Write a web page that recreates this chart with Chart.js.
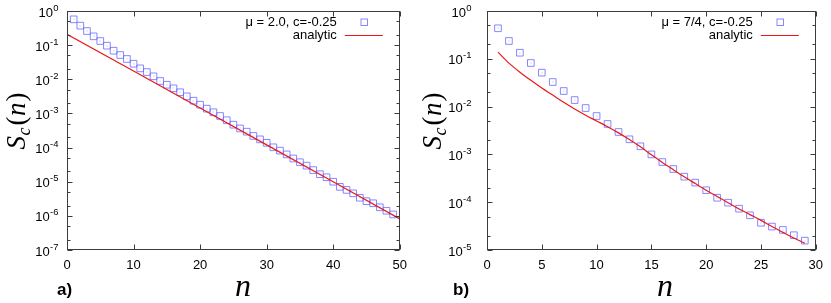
<!DOCTYPE html>
<html><head><meta charset="utf-8">
<script src="https://cdn.jsdelivr.net/npm/chart.js@4/dist/chart.umd.min.js"></script>
<style>
html,body{margin:0;padding:0;background:#fff;width:831px;height:303px;overflow:hidden}
.p{position:absolute;top:0}
</style></head><body>
<div class="p" style="left:0;width:415px;height:303px"><canvas id="ca" width="415" height="303"></canvas></div>
<div class="p" style="left:415px;width:416px;height:303px"><canvas id="cb" width="416" height="303"></canvas></div>
<script>
// ---------- data ----------
// panel a)
const nA = [1,2,3,4,5,6,7,8,9,10,11,12,13,14,15,16,17,18,19,20,21,22,23,24,25,26,27,28,29,30,31,32,33,34,35,36,37,38,39,40,41,42,43,44,45,46,47,48,49];
const simA = [0.570,0.372,0.259,0.181,0.132,0.0964,0.0687,0.0514,0.0393,0.0286,0.0209,0.0163,0.0122,0.00891,0.00692,0.00543,0.00417,0.00316,0.00236,0.00180,0.00138,0.00108,8.41e-4,6.31e-4,4.68e-4,3.63e-4,2.92e-4,2.19e-4,1.74e-4,1.38e-4,1.02e-4,8.13e-5,6.31e-5,4.79e-5,3.72e-5,2.95e-5,2.19e-5,1.66e-5,1.35e-5,1.0e-5,7.08e-6,5.75e-6,4.57e-6,3.39e-6,2.69e-6,2.34e-6,1.78e-6,1.41e-6,1.10e-6];
const lineNA = [0,10,20,30,40,50];
const analyticA = [0.2075,0.0174,0.00145,1.20e-4,1.0e-5,8.13e-7];
// panel b)
const nB = [1,2,3,4,5,6,7,8,9,10,11,12,13,14,15,16,17,18,19,20,21,22,23,24,25,26,27,28,29];
const simB = [0.435,0.236,0.134,0.0817,0.0513,0.0327,0.0212,0.0137,0.00933,0.00635,0.00433,0.00294,0.00207,0.00148,0.00100,6.92e-4,4.95e-4,3.42e-4,2.57e-4,1.78e-4,1.24e-4,9.77e-5,7.31e-5,5.32e-5,3.72e-5,3.09e-5,2.63e-5,2.04e-5,1.57e-5];
const lineNB = [1,2,3,4,5,6,7,8,9,10,11,12,13,14,15,16,17,18,19,20,21,22,23,24,25,26,27,28,29];
const analyticB = [0.138,0.0813,0.0525,0.0355,0.0245,0.0174,0.0123,0.00891,0.00661,0.00501,0.00380,0.00282,0.00204,0.00145,0.00098,6.80e-4,4.79e-4,3.39e-4,2.45e-4,1.78e-4,1.32e-4,9.77e-5,7.24e-5,5.50e-5,4.17e-5,3.09e-5,2.34e-5,1.78e-5,1.38e-5];
// ticks / labels
const xRangeA = [0, 50], xStepA = 10;
const xRangeB = [0, 30], xStepB = 5;
const yExpA = [0,-1,-2,-3,-4,-5,-6,-7];
const yExpB = [0,-1,-2,-3,-4,-5];
const legendSimA = 'μ = 2.0, c=-0.25';
const legendSimB = 'μ = 7/4, c=-0.25';
const legendAnalytic = 'analytic';
const panelLabelA = 'a)';
const panelLabelB = 'b)';

// ---------- styling ----------
const SANS = '"Liberation Sans", Arial, Helvetica, sans-serif';
const SERIF = '"Liberation Serif", "Times New Roman", serif';
const SQ = 'rgba(105,105,255,0.8)';
const RED = 'rgb(235,25,25)';
const FRAME = '#3c3c3c';

const gp = {
  id: 'gp',
  afterDatasetsDraw(chart) {
    // gnuplot-style centre dot inside each square marker
    const ctx = chart.ctx;
    const meta = chart.getDatasetMeta(0);
    ctx.save();
    ctx.fillStyle = 'rgba(120,120,255,0.55)';
    meta.data.forEach(pt => { ctx.fillRect(Math.round(pt.x) - 0.5, Math.round(pt.y) - 0.5, 1, 1); });
    ctx.restore();
  },
  afterDraw(chart, args, o) {
    const ctx = chart.ctx, ca = chart.chartArea, xs = chart.scales.x, ys = chart.scales.y;
    ctx.save();
    const L = Math.round(ca.left) + 0.5, R = Math.round(ca.right) - 0.5;
    const T = Math.round(ca.top) + 0.5, B = Math.round(ca.bottom) - 0.5;
    ctx.strokeStyle = FRAME; ctx.lineWidth = 1;
    const seg = (x1, y1, x2, y2) => { ctx.beginPath(); ctx.moveTo(x1, y1); ctx.lineTo(x2, y2); ctx.stroke(); };
    // frame
    ctx.strokeRect(L, T, R - L, B - T);
    // x ticks (inward, mirrored)
    xs.ticks.forEach(t => {
      const px = Math.round(xs.getPixelForValue(t.value)) + 0.5;
      seg(px, B, px, B - 5); seg(px, T, px, T + 5);
    });
    // y ticks: majors and minors (2, 5)
    const ymin = ys.min, ymax = ys.max;
    o.yExp.forEach(e => {
      [1, 2, 5].forEach(m => {
        const v = m * Math.pow(10, e);
        if (v < ymin * 0.999 || v > ymax * 1.001) return;
        const py = Math.round(ys.getPixelForValue(v)) + 0.5;
        const len = m === 1 ? 5 : 3;
        seg(L, py, L + len, py); seg(R, py, R - len, py);
      });
    });
    // y labels 10^e
    ctx.fillStyle = '#000'; ctx.textBaseline = 'alphabetic';
    const right = ca.left - o.labelGap;
    o.yExp.forEach(e => {
      const py = ys.getPixelForValue(Math.pow(10, e));
      const es = String(e);
      ctx.font = '9.5px ' + SANS;
      const ew = ctx.measureText(es).width;
      ctx.textAlign = 'left';
      ctx.fillText(es, right - ew, py - 0.5);
      ctx.font = '13px ' + SANS;
      ctx.textAlign = 'right';
      ctx.fillText('10', right - ew - 0.3, py + 5.5);
    });
    // legend (gnuplot style key)
    const ds = chart.data.datasets;
    ctx.font = '13px ' + SANS; ctx.textAlign = 'right'; ctx.textBaseline = 'middle';
    const tr = ca.right - 63;
    ctx.fillText(ds[0].label, tr, 22);
    ctx.fillText(ds[1].label, tr, 35.5);
    ctx.strokeStyle = SQ; ctx.lineWidth = 1;
    ctx.strokeRect(Math.round(ca.right - 36) - 3, 19, 6.5, 6.5);
    ctx.strokeStyle = RED; ctx.lineWidth = 1.2;
    seg(ca.right - 55, 35.5, ca.right - 17, 35.5);
    // y title S_c(n)
    ctx.fillStyle = '#000';
    ctx.save();
    ctx.translate(o.yTitleX, o.yTitleY);
    ctx.rotate(-Math.PI / 2);
    const parts = [
      { t: 'S', f: 'italic 27px ' + SERIF, dy: 0, sp: 0.5 },
      { t: 'c', f: 'italic 18px ' + SERIF, dy: 5, sp: 2 },
      { t: '(', f: '27px ' + SERIF, dy: 0, sp: 0.5 },
      { t: 'n', f: 'italic 27px ' + SERIF, dy: 0, sp: 1 },
      { t: ')', f: '27px ' + SERIF, dy: 0, sp: 0 }
    ];
    let tot = 0;
    parts.forEach(p => { ctx.font = p.f; p.w = ctx.measureText(p.t).width; tot += p.w + p.sp; });
    let cx = -tot / 2;
    ctx.textAlign = 'left'; ctx.textBaseline = 'alphabetic';
    parts.forEach(p => { ctx.font = p.f; ctx.fillText(p.t, cx, p.dy); cx += p.w + p.sp; });
    ctx.restore();
    // x title n
    ctx.font = 'italic 32px ' + SERIF; ctx.textAlign = 'center'; ctx.textBaseline = 'alphabetic';
    ctx.fillText('n', o.xTitleX, 296);
    // panel label
    ctx.font = 'bold 17px ' + SANS; ctx.textAlign = 'left';
    ctx.fillText(o.panel, o.panelX, 295);
    ctx.restore();
  }
};

function makeChart(id, cfg) {
  const sim = cfg.n.map((x, i) => ({ x: x, y: cfg.sim[i] }));
  const ana = cfg.ln.map((x, i) => ({ x: x, y: cfg.ana[i] }));
  return new Chart(document.getElementById(id), {
    type: 'scatter',
    data: {
      datasets: [
        { label: cfg.simLabel, data: sim, showLine: false, pointStyle: 'rect', pointRadius: 4.7,
          pointBorderWidth: 1, borderColor: SQ, backgroundColor: 'rgba(0,0,0,0)', pointBackgroundColor: 'rgba(0,0,0,0)', pointBorderColor: SQ, order: 2 },
        { label: legendAnalytic, data: ana, showLine: true, pointRadius: 0, borderColor: RED, borderWidth: 1.2,
          backgroundColor: RED, cubicInterpolationMode: cfg.mono ? 'monotone' : 'default', tension: 0, fill: false, order: 1 }
      ]
    },
    options: {
      responsive: false, animation: false, devicePixelRatio: 1,
      layout: { padding: { top: 11, right: cfg.padRight, left: 0, bottom: 0 } },
      plugins: {
        legend: { display: false }, tooltip: { enabled: false },
        gp: cfg.gp
      },
      scales: {
        x: {
          type: 'linear', min: cfg.xr[0], max: cfg.xr[1],
          grid: { display: false, drawTicks: false }, border: { display: false },
          ticks: { stepSize: cfg.step, color: '#000', font: { family: SANS, size: 13 }, padding: 8, maxRotation: 0 },
          afterFit: s => { s.height = 53; }
        },
        y: {
          type: 'logarithmic', min: Math.pow(10, cfg.yExp[cfg.yExp.length - 1]), max: Math.pow(10, cfg.yExp[0]),
          grid: { display: false, drawTicks: false }, border: { display: false },
          ticks: { display: false },
          afterFit: s => { s.width = cfg.leftW; }
        }
      }
    },
    plugins: [gp]
  });
}

makeChart('ca', {
  n: nA, sim: simA, ln: lineNA, ana: analyticA, simLabel: legendSimA, mono: false,
  xr: xRangeA, step: xStepA, yExp: yExpA, padRight: 12, leftW: 67,
  gp: { yExp: yExpA, labelGap: 8.5, yTitleX: 25, yTitleY: 121, xTitleX: 243, panel: panelLabelA, panelX: 57 }
});
makeChart('cb', {
  n: nB, sim: simB, ln: lineNB, ana: analyticB, simLabel: legendSimB, mono: true,
  xr: xRangeB, step: xStepB, yExp: yExpB, padRight: 10, leftW: 72,
  gp: { yExp: yExpB, labelGap: 15.5, yTitleX: 26, yTitleY: 121, xTitleX: 250, panel: panelLabelB, panelX: 38 }
});
</script>
</body></html>
